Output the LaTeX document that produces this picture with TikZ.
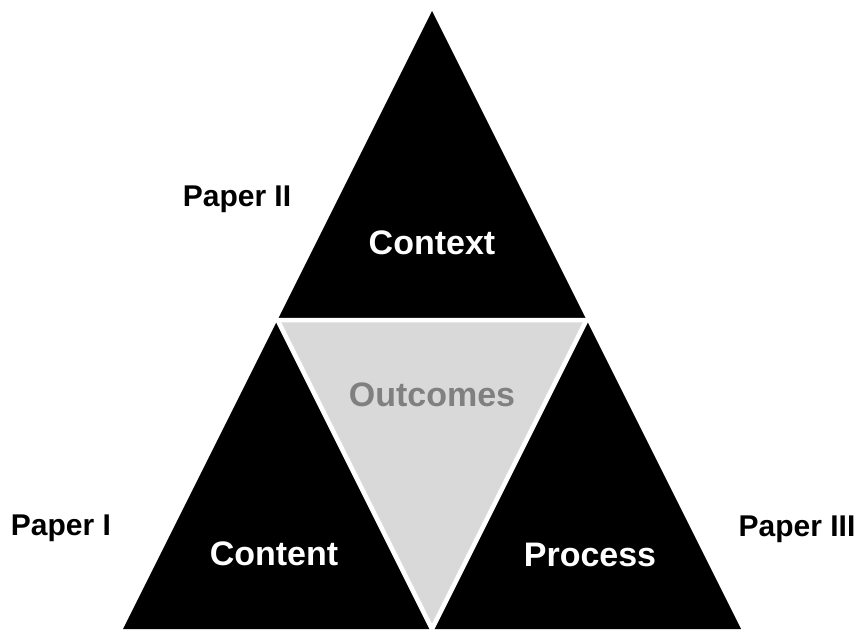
\documentclass[tikz,border=0pt]{standalone}
\usepackage{fontspec}
\setmainfont{Liberation Sans}
\usetikzlibrary{calc}
\definecolor{outcomefill}{HTML}{D9D9D9}
\definecolor{outcometext}{HTML}{808080}
\tikzset{
    paperlabel/.style={font=\fontsize{30}{36}\selectfont\bfseries, text=black, inner sep=0pt, anchor=base},
    arealabel/.style={font=\fontsize{34}{40}\selectfont\bfseries, text=white, inner sep=0pt, anchor=base},
}
\begin{document}
\begin{tikzpicture}[x=1pt, y=-1pt]
    \useasboundingbox (0,0) rectangle (859,629);

    % Corners of the big triangle
    \coordinate (apex) at (432,11);
    \coordinate (baseL) at (123,629);
    \coordinate (baseR) at (741,629);
    \coordinate (midL) at ($(apex)!0.5!(baseL)$);
    \coordinate (midR) at ($(apex)!0.5!(baseR)$);
    \coordinate (midB) at ($(baseL)!0.5!(baseR)$);

    % Black triangle, gray centre cut out with a white border
    \fill[black] (apex) -- (baseL) -- (baseR) -- cycle;
    \filldraw[fill=outcomefill, draw=white, line width=4.5pt, line join=miter] (midL) -- (midR) -- (midB) -- cycle;

    % Area labels
    \node[arealabel] (context) at (432,254) {Context};
    \node[arealabel, text=outcometext] (outcomes) at (432,406) {Outcomes};
    \node[arealabel] (content) at (274,565) {Content};
    \node[arealabel] (process) at (590,566) {Process};

    % Paper labels
    \node[paperlabel] (paper2) at (237,206) {Paper II};
    \node[paperlabel] (paper1) at (61,535) {Paper I};
    \node[paperlabel] (paper3) at (797,536) {Paper III};
\end{tikzpicture}
\end{document}
